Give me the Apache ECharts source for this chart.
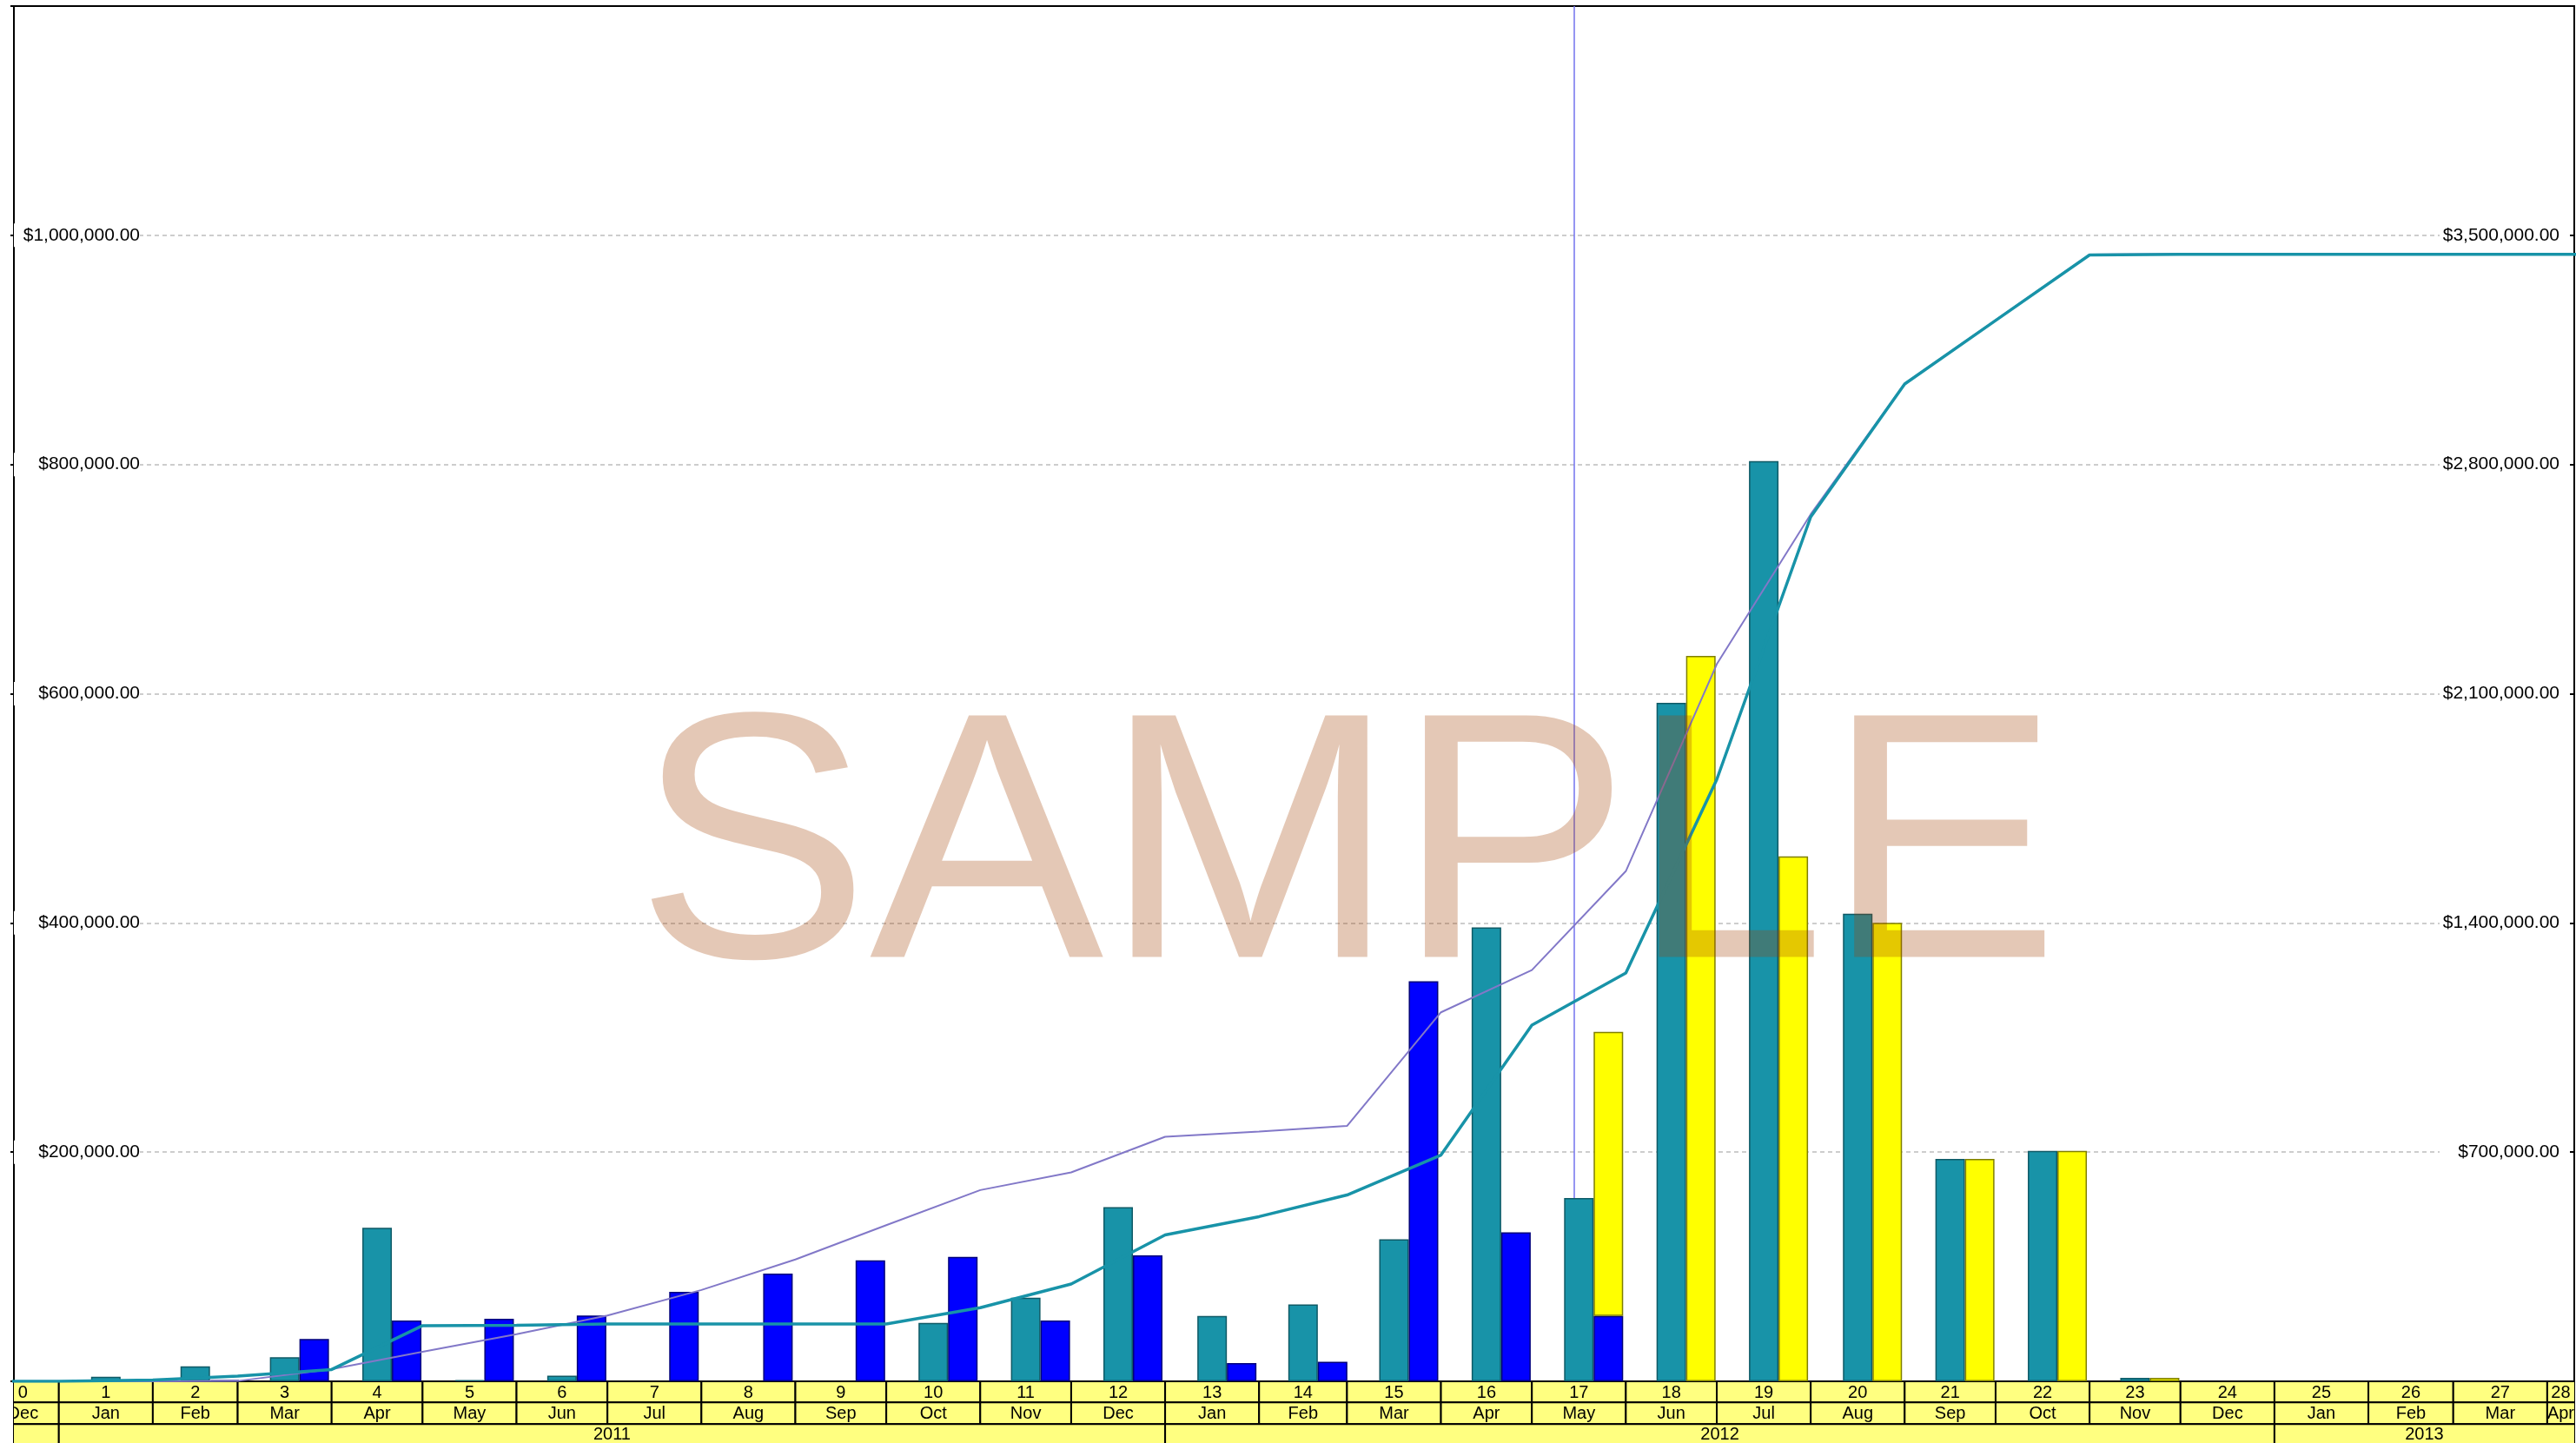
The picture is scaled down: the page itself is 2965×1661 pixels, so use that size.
<!DOCTYPE html>
<html>
<head>
<meta charset="utf-8">
<title>Monthly amounts and cumulative totals</title>
<script src="https://cdn.jsdelivr.net/npm/echarts@6/dist/echarts.min.js"></script>
<style>
  html, body { margin: 0; padding: 0; background: #fff; }
  #chart { width: 2965px; height: 1661px; }
</style>
</head>
<body>
<div id="chart"></div>
<script>
// months on the time axis (first and last are cut off by the plot edges)
const months = [
  '2010-12',
  '2011-01', '2011-02', '2011-03', '2011-04', '2011-05', '2011-06',
  '2011-07', '2011-08', '2011-09', '2011-10', '2011-11', '2011-12',
  '2012-01', '2012-02', '2012-03', '2012-04', '2012-05', '2012-06',
  '2012-07', '2012-08', '2012-09', '2012-10', '2012-11', '2012-12',
  '2013-01', '2013-02', '2013-03', '2013-04'
]
const monthNames = ['Jan', 'Feb', 'Mar', 'Apr', 'May', 'Jun', 'Jul', 'Aug', 'Sep', 'Oct', 'Nov', 'Dec']
const periodLabels = ['0', '1', '2', '3', '4', '5', '6', '7', '8', '9', '10', '11', '12', '13', '14',
  '15', '16', '17', '18', '19', '20', '21', '22', '23', '24', '25', '26', '27', '28']
const years = [2010, 2011, 2012, 2013]
const yearLabels = ['', '2011', '2012', '2013']

// monthly bars in $1000, one per month above (null = no bar)
const actual = [null, 4, 13, 21, 134, 1, 5, null, null, null, 51, 73, 152,
  57, 67, 124, 396, 160, 592, 803, 408, 194, 201, 3, null,
  null, null, null, null]
const billed = [null, null, 1, 37, 53, 54.5, 57.5, 78, 94, 105.5, 108.5, 53, 110,
  16, 17, 349, 130, 57, null, null, null, null, null, null, null,
  null, null, null, null]
const forecast = [null, null, null, null, null, null, null, null, null, null, null, null, null,
  null, null, null, null, 248, 633, 458, 400, 194, 201, 3, null,
  null, null, null, null]

// cumulative totals in $1000 at the start of each month, Dec 2010 .. May 2013
const cumActual = [0, 0, 4, 16, 36, 170, 171, 175, 175, 175, 175, 225, 297,
  447, 503, 569, 691, 1088, 1247, 1838, 2640, 3046, 3240, 3440, 3442,
  3442, 3442, 3442, 3442, 3442]
const cumPlanned = [0, 0, 0, 1, 37, 90, 144, 201, 279, 372, 477, 584, 638,
  747, 763, 780, 1127, 1256, 1558, 2190, 2648, 3047, 3241, 3441, 3443,
  3443, 3443, 3443, 3443, 3443]

const todayMark = '2012-05-15'

const FONT = 'Liberation Sans, Arial, sans-serif'
const X_MIN = Date.UTC(2010, 11, 17, 4)
const X_MAX = Date.UTC(2013, 3, 9, 22)

function monthStart(i) {
  const [y, m] = months[0].split('-').map(Number)
  return Date.UTC(y, m - 1 + i, 1)
}
function money(v) {
  return '$' + String(v).replace(/\B(?=(\d{3})+(?!\d))/g, ',') + '.00'
}

const midMonth = months.map((m, i) => (monthStart(i) + monthStart(i + 1)) / 2)
const bounds = cumActual.map((v, i) => monthStart(i))
// amount first, date second: the stack then runs on the amount column
const barData = arr => arr.map((v, i) => [v == null ? null : v * 1000, midMonth[i]])
const barEncode = { x: 1, y: 0 }
const lineData = arr => arr.map((v, i) => [bounds[i], v * 1000])

// bottom band: three rows (period number, month, year)
const ROWS = [[0, 24.3], [24.3, 49.3], [49.3, 90]]
const monthCells = months.map((m, i) => [monthStart(i), monthStart(i + 1)])
const monthLabels = months.map(m => monthNames[Number(m.split('-')[1]) - 1])
const yearCells = years.map(y => [Date.UTC(y, 0, 1), Date.UTC(y + 1, 0, 1)])

function cellRenderer(labels) {
  return function (params, api) {
    const row = api.value(2)
    const p0 = api.coord([api.value(0), ROWS[row][0]])
    const p1 = api.coord([api.value(1), ROWS[row][1]])
    const cs = params.coordSys
    const l = Math.max(p0[0], cs.x - 31)
    const r = Math.min(p1[0], cs.x + cs.width)
    const b = Math.min(p1[1], cs.y + cs.height - 2)
    return {
      type: 'group',
      children: [
        {
          type: 'rect',
          shape: { x: p0[0], y: p0[1], width: p1[0] - p0[0], height: p1[1] - p0[1] },
          style: { fill: '#ffff80', stroke: '#000', lineWidth: 2 }
        },
        {
          type: 'text',
          x: (l + r) / 2,
          y: (p0[1] + b) / 2 + 1,
          style: {
            text: labels[params.dataIndex],
            fontSize: 20, fontFamily: FONT, fill: '#000',
            align: 'center', verticalAlign: 'middle',
            textAlign: 'center', textVerticalAlign: 'middle'
          }
        }
      ]
    }
  }
}

const chart = echarts.init(document.getElementById('chart'))

const tealBar = { color: '#1893a8', borderColor: '#0f5a66', borderWidth: 1.5 }

chart.setOption({
  animation: false,
  textStyle: { fontFamily: FONT },
  grid: [
    { left: 16, right: 2, top: 7, bottom: 71, show: true, borderColor: '#000', borderWidth: 2, outerBoundsMode: 'none' },
    { left: 16, right: 2, top: 1590, bottom: -2, show: true, borderColor: '#000', borderWidth: 2, outerBoundsMode: 'none' }
  ],
  // time in ms on plain value axes (a time axis would widen itself for the bars)
  xAxis: [
    { type: 'value', gridIndex: 0, min: X_MIN, max: X_MAX, show: false },
    { type: 'value', gridIndex: 1, min: X_MIN, max: X_MAX, show: false }
  ],
  yAxis: [
    {
      type: 'value', gridIndex: 0, position: 'left', offset: -145,
      min: 0, max: 1200000, interval: 200000,
      axisLine: { show: false }, axisTick: { show: false },
      axisLabel: {
        formatter: money, showMinLabel: false, showMaxLabel: false,
        margin: 0, align: 'right', width: 145, backgroundColor: '#fff', padding: [3, 0, 3, 0],
        fontSize: 21, color: '#000', fontFamily: FONT
      },
      splitLine: {
        show: true, showMinLine: false, showMaxLine: false,
        lineStyle: { type: [5, 4], color: '#bdbdbd', width: 1.5 }
      }
    },
    {
      type: 'value', gridIndex: 0, position: 'right', offset: -150,
      min: 0, max: 4200000, interval: 700000,
      axisLine: { show: false }, axisTick: { show: false },
      axisLabel: {
        formatter: money, showMinLabel: false, showMaxLabel: false,
        margin: 143, align: 'right', width: 138, backgroundColor: '#fff', padding: [3, 10, 3, 0],
        fontSize: 21, color: '#000', fontFamily: FONT
      },
      splitLine: { show: false }
    },
    {
      type: 'value', gridIndex: 0, position: 'left', min: 0, max: 1200000, interval: 200000,
      axisLine: { show: false }, axisLabel: { show: false }, splitLine: { show: false },
      axisTick: { show: true, length: 4, lineStyle: { color: '#000', width: 2 } }
    },
    {
      type: 'value', gridIndex: 0, position: 'right', min: 0, max: 4200000, interval: 700000,
      axisLine: { show: false }, axisLabel: { show: false }, splitLine: { show: false },
      axisTick: { show: true, inside: true, length: 5, lineStyle: { color: '#000', width: 2 } }
    },
    { type: 'value', gridIndex: 1, min: 0, max: 73, inverse: true, show: false }
  ],
  series: [
    // empty slot left of the actual bar, so the actual bar sits on mid-month
    { name: 'slot', type: 'bar', data: [], barWidth: 34, barGap: '0%' },
    {
      name: 'Actual', type: 'bar', data: barData(actual), encode: barEncode, barWidth: 34, barGap: '0%',
      itemStyle: tealBar, silent: true,
      markLine: {
        z: 1, silent: true, symbol: ['none', 'none'], label: { show: false },
        lineStyle: { color: '#7272ee', width: 1.5, type: 'solid' },
        data: [{ xAxis: Date.parse(todayMark) }]
      }
    },
    {
      name: 'Billed', type: 'bar', stack: 'plan', data: barData(billed), encode: barEncode,
      barWidth: 34, barGap: '0%',
      itemStyle: { color: '#0000ff', borderColor: '#00007a', borderWidth: 1.5 }, silent: true
    },
    {
      name: 'Forecast', type: 'bar', stack: 'plan', data: barData(forecast), encode: barEncode,
      barWidth: 34, barGap: '0%',
      itemStyle: { color: '#ffff00', borderColor: '#7f7f00', borderWidth: 1.5 }, silent: true
    },
    {
      name: 'Cumulative planned', type: 'line', yAxisIndex: 1, data: lineData(cumPlanned),
      showSymbol: false, symbol: 'none', silent: true,
      lineStyle: { color: '#8278c8', width: 2 }
    },
    {
      name: 'Cumulative actual', type: 'line', yAxisIndex: 1, data: lineData(cumActual),
      showSymbol: false, symbol: 'none', silent: true,
      lineStyle: { color: '#1893a8', width: 3.5 }
    },
    {
      type: 'custom', xAxisIndex: 1, yAxisIndex: 4, clip: true, silent: true,
      renderItem: cellRenderer(periodLabels),
      data: monthCells.map(c => [c[0], c[1], 0])
    },
    {
      type: 'custom', xAxisIndex: 1, yAxisIndex: 4, clip: true, silent: true,
      renderItem: cellRenderer(monthLabels),
      data: monthCells.map(c => [c[0], c[1], 1])
    },
    {
      type: 'custom', xAxisIndex: 1, yAxisIndex: 4, clip: true, silent: true,
      renderItem: cellRenderer(yearLabels),
      data: yearCells.map(c => [c[0], c[1], 2])
    }
  ],
  graphic: [
    {
      type: 'text', x: 1551, y: 990, z: 100, silent: true,
      style: {
        text: 'SAMPLE', fontSize: 404, fontFamily: FONT,
        fill: 'rgba(162, 65, 2, 0.29)',
        align: 'center', verticalAlign: 'middle'
      }
    }
  ]
})

window.addEventListener('resize', () => chart.resize())
</script>
</body>
</html>
